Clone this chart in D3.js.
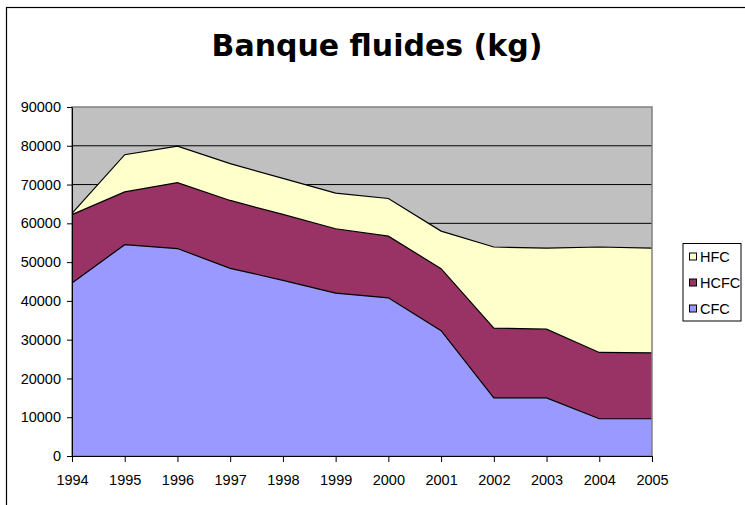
<!DOCTYPE html>
<html>
<head>
<meta charset="utf-8">
<script src="https://cdn.jsdelivr.net/npm/d3@7"></script>
<style>
  body { margin: 0; background: #fff; }
  .axis text { font-family: "Liberation Sans", Arial, sans-serif; font-size: 14.5px; fill: #000; }
  .axis path, .axis line { stroke: #000; }
</style>
</head>
<body>
<div id="chart"></div>
<script>
var years = [1994, 1995, 1996, 1997, 1998, 1999, 2000, 2001, 2002, 2003, 2004, 2005];
var cfc  = [44600, 54500, 53500, 48400, 45300, 42000, 40800, 32300, 15000, 15000, 9600, 9600];
var hcfc = [17650, 13600, 17000, 17500, 17000, 16600, 15900, 16000, 18000, 17700, 17100, 17000];
var hfc  = [300, 9600, 9400, 9500, 9300, 9200, 9700, 9700, 20900, 20900, 27200, 27000];
var seriesNames = ["CFC", "HCFC", "HFC"];
var colors = ["#9999ff", "#993366", "#ffffcc"];
var yTicks = [0, 10000, 20000, 30000, 40000, 50000, 60000, 70000, 80000, 90000];

var margin = {top: 107, left: 72},
    width = 580,
    height = 349;

var svg0 = d3.select("#chart")
    .append("svg")
        .attr("width", 745)
        .attr("height", 505);

// chart area border (runs off the page right and bottom)
svg0.append("rect")
    .attr("x", 6.5).attr("y", 7.5)
    .attr("width", 800).attr("height", 600)
    .attr("fill", "none")
    .attr("stroke", "#000")
    .attr("stroke-width", 1.2);

svg0.append("text")
    .attr("x", 377).attr("y", 56)
    .attr("text-anchor", "middle")
    .style("font-family", "'DejaVu Sans', Verdana, sans-serif")
    .style("font-weight", "bold")
    .style("font-size", "30px")
    .text("Banque fluides (kg)");

var svg = svg0.append("g")
    .attr("transform", "translate(" + margin.left + "," + margin.top + ")");

var x = d3.scalePoint()
    .domain(years)
    .range([0, width]);

var y = d3.scaleLinear()
    .domain([0, 90000])
    .range([height, 0]);

var table = years.map(function(yr, i) {
    return {year: yr, CFC: cfc[i], HCFC: hcfc[i], HFC: hfc[i]};
});

var stacked = d3.stack().keys(seriesNames)(table);

// plot background
svg.append("rect")
    .attr("width", width)
    .attr("height", height)
    .attr("fill", "#c0c0c0");

// gridlines
svg.selectAll(".grid")
    .data(yTicks.slice(1, -1))
  .enter().append("line")
    .attr("class", "grid")
    .attr("x1", 0).attr("x2", width)
    .attr("y1", function(d) { return y(d); })
    .attr("y2", function(d) { return y(d); })
    .attr("stroke", "#000")
    .attr("stroke-width", 1);

var area = d3.area()
    .x(function(d) { return x(d.data.year); })
    .y0(function(d) { return y(d[0]); })
    .y1(function(d) { return y(d[1]); });

var topLine = d3.line()
    .x(function(d) { return x(d.data.year); })
    .y(function(d) { return y(d[1]); });

svg.selectAll(".layer")
    .data(stacked)
  .enter().append("path")
    .attr("class", "layer")
    .attr("d", area)
    .attr("fill", function(d, i) { return colors[i]; });

svg.selectAll(".edge")
    .data(stacked)
  .enter().append("path")
    .attr("class", "edge")
    .attr("d", topLine)
    .attr("fill", "none")
    .attr("stroke", "#000")
    .attr("stroke-width", 1.2);

// plot border
svg.append("rect")
    .attr("width", width)
    .attr("height", height)
    .attr("fill", "none")
    .attr("stroke", "#808080")
    .attr("stroke-width", 1.5);

svg.append("g")
    .attr("class", "axis")
    .attr("transform", "translate(0," + height + ")")
    .call(d3.axisBottom(x).tickSize(6).tickSizeOuter(0).tickPadding(13));

svg.append("g")
    .attr("class", "axis")
    .call(d3.axisLeft(y).tickValues(yTicks).tickSize(5).tickSizeOuter(0).tickPadding(6)
        .tickFormat(d3.format("d")));

// legend
var legend = svg0.append("g")
    .attr("transform", "translate(683,243.5)");

legend.append("rect")
    .attr("width", 58).attr("height", 77.5)
    .attr("fill", "#fff")
    .attr("stroke", "#000")
    .attr("stroke-width", 1);

var items = legend.selectAll(".item")
    .data(seriesNames.slice().reverse())
  .enter().append("g")
    .attr("class", "item")
    .attr("transform", function(d, i) { return "translate(0," + (13 + i * 26) + ")"; });

items.append("rect")
    .attr("x", 6.5).attr("y", -3.5)
    .attr("width", 7).attr("height", 7)
    .attr("fill", function(d) { return colors[seriesNames.indexOf(d)]; })
    .attr("stroke", "#000");

items.append("text")
    .attr("x", 17).attr("dy", "0.36em")
    .style("font-family", "'Liberation Sans', Arial, sans-serif")
    .style("font-size", "14.5px")
    .text(function(d) { return d; });
</script>
</body>
</html>
